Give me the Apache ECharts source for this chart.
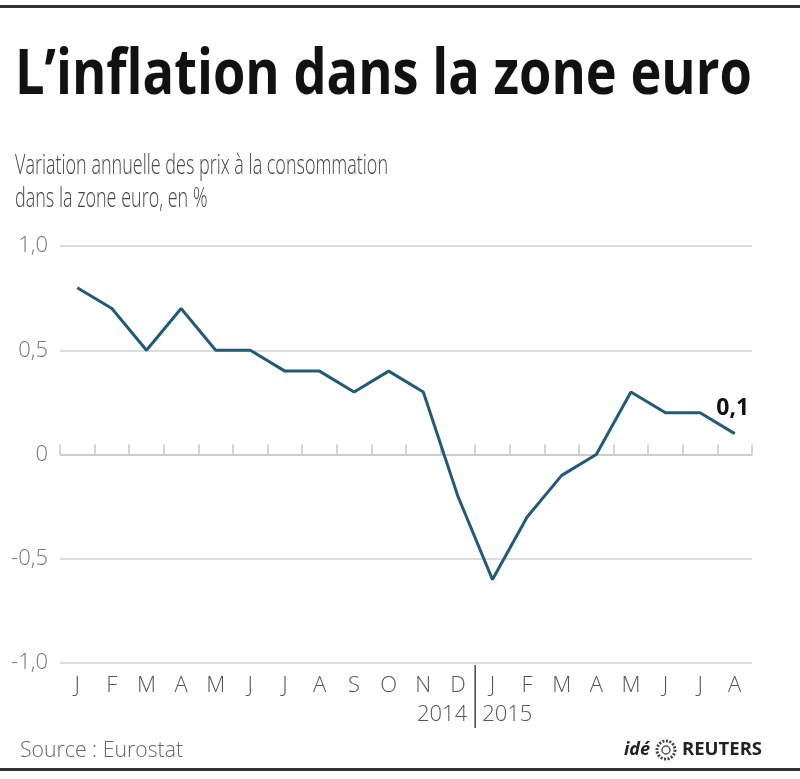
<!DOCTYPE html>
<html><head><meta charset="utf-8">
<script src="https://cdn.jsdelivr.net/npm/echarts@6/dist/echarts.min.js"></script>
<style>html,body{margin:0;padding:0;background:#fff}#c{width:800px;height:779px}</style>
</head><body><div id="c"></div>
<script>
const months = ['J','F','M','A','M','J','J','A','S','O','N','D','J','F','M','A','M','J','J','A'];
const inflation = [0.8,0.7,0.5,0.7,0.5,0.5,0.4,0.4,0.3,0.4,0.3,-0.2,-0.6,-0.3,-0.1,0.0,0.3,0.2,0.2,0.1];
const years = ['2014','2015'];
const yearStartIndex = 12;
const titleText = 'L’inflation dans la zone euro';
const subtitleLines = ['Variation annuelle des prix à la consommation','dans la zone euro, en %'];
const sourceText = 'Source : Eurostat';

const FONT = '"Open Sans", "Noto Sans", sans-serif';
function measure(text, font){const c=document.createElement('canvas').getContext('2d');c.font=font;return c.measureText(text).width;}
const fmt = v => v === 0 ? '0' : v.toFixed(1).replace('.', ',');

const chart = echarts.init(document.getElementById('c'), null, {renderer:'canvas'});
const last = inflation.length - 1;
const seriesData = inflation.map((v,i)=> i===last ? {value:v, label:{show:true, position:'top', distance:14, offset:[-2,0], formatter:p=>fmt(p.value), fontFamily:FONT, fontWeight:'bold', fontSize:23, color:'#111'}} : v);

const titleFont = 'bold 63px ' + FONT;
const titleScale = 737 / measure(titleText, titleFont);
const subFont = '300 28px ' + FONT;
const subScale = 373 / measure(subtitleLines[0], subFont);
const srcFont = '300 22px ' + FONT;
const srcScale = 163 / measure(sourceText, srcFont);

chart.setOption({
  animation:false,
  grid:{left:60, right:48, top:246, bottom:116},
  xAxis:[{
    type:'category', data:months, boundaryGap:true, position:'bottom',
    axisLine:{onZero:true, lineStyle:{color:'#c8c8c8', width:1.5}},
    axisTick:{show:true, inside:true, length:10, lineStyle:{color:'#c8c8c8', width:1.5}},
    axisLabel:{show:false}, splitLine:{show:false}
  },{
    type:'category', data:months, boundaryGap:true, position:'bottom',
    axisLine:{show:false}, axisTick:{show:false}, splitLine:{show:false},
    axisLabel:{show:true, interval:0, margin:12, fontFamily:FONT, fontWeight:300, fontSize:22, color:'#555'}
  }],
  yAxis:{
    type:'value', min:-1, max:1, interval:0.5,
    axisLine:{show:false}, axisTick:{show:false},
    splitLine:{lineStyle:{color:'#d0d0d0', width:1.5}},
    axisLabel:{formatter:fmt, margin:12, fontFamily:FONT, fontWeight:300, fontSize:22, color:'#777'}
  },
  series:[{type:'line', xAxisIndex:0, data:seriesData, symbol:'circle', symbolSize:0, showSymbol:true, lineStyle:{color:'#215b78', width:3}, itemStyle:{color:'#215b78'}}]
});

const xD = chart.convertToPixel({xAxisIndex:0}, yearStartIndex-1);
const xJ = chart.convertToPixel({xAxisIndex:0}, yearStartIndex);
const xb = (xD + xJ) / 2;

chart.setOption({
  graphic:[
    {type:'rect', shape:{x:0,y:5,width:800,height:3}, style:{fill:'#333'}},
    {type:'rect', shape:{x:0,y:768,width:800,height:3}, style:{fill:'#333'}},
    {type:'text', x:15, y:76, scaleX:titleScale, style:{text:titleText, font:titleFont, fill:'#111', align:'left', verticalAlign:'middle'}},
    {type:'text', x:15, y:166, scaleX:subScale, style:{text:subtitleLines[0], font:subFont, fill:'#444', align:'left', verticalAlign:'middle'}},
    {type:'text', x:15, y:199, scaleX:subScale, style:{text:subtitleLines[1], font:subFont, fill:'#444', align:'left', verticalAlign:'middle'}},
    {type:'line', shape:{x1:xb, y1:665, x2:xb, y2:728}, style:{stroke:'#444', lineWidth:1.5}},
    {type:'text', x:xb-8, y:715, style:{text:years[0], font:'300 22px '+FONT, fill:'#555', align:'right', verticalAlign:'middle'}},
    {type:'text', x:xb+7, y:715, style:{text:years[1], font:'300 22px '+FONT, fill:'#555', align:'left', verticalAlign:'middle'}},
    {type:'text', x:20, y:751, scaleX:srcScale, style:{text:sourceText, font:srcFont, fill:'#666', align:'left', verticalAlign:'middle'}},
    {type:'text', x:624, y:750, style:{text:'idé', font:'italic bold 18px '+FONT, fill:'#222', align:'left', verticalAlign:'middle'}},
    {type:'circle', shape:{cx:666, cy:750, r:9}, style:{fill:'none', stroke:'#444', lineWidth:3, lineDash:[2,1.5]}},
    {type:'circle', shape:{cx:666, cy:750, r:4}, style:{fill:'#fff', stroke:'#555', lineWidth:1.5}},
    {type:'text', x:682, y:750, style:{text:'REUTERS', font:'bold 18.5px '+FONT, fill:'#222', align:'left', verticalAlign:'middle'}}
  ]
});
</script></body></html>
